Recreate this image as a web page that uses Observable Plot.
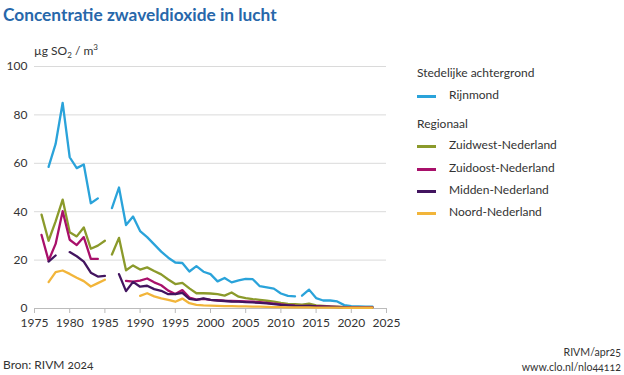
<!DOCTYPE html>
<html><head><meta charset="utf-8">
<script src="https://cdn.jsdelivr.net/npm/d3@7"></script>
<script src="https://cdn.jsdelivr.net/npm/@observablehq/plot@0.6"></script>
<style>
body{margin:0;background:#fff;font-family:Lato,"Noto Sans",sans-serif;color:#333;}
#wrap{position:relative;width:624px;height:375px;overflow:hidden;}
#wrap svg{position:absolute;left:0;top:0;}
.ov{position:absolute;white-space:nowrap;line-height:1;}
#title{left:3px;top:6px;font-size:17.3px;font-weight:bold;color:#2767aa;}
#unit{left:34px;top:43px;font-size:12px;}
#unit sub{font-size:8px;vertical-align:-3px;}
#unit sup{font-size:8px;vertical-align:5px;}
.lg{font-size:12px;}
.sw{position:absolute;width:19px;height:2.5px;}
.num{font-variant-numeric:oldstyle-nums;}
#src{left:3px;top:359px;font-size:12px;}
#r1{right:3px;top:347px;font-size:10.6px;text-align:right;}
#r2{right:3px;top:362px;font-size:10.6px;text-align:right;}
g[aria-label="x-axis tick"] path{stroke:#bbb;}
</style></head>
<body><div id="wrap"></div>
<script>
const years = d3.range(1976, 2024);
const seriesNames = ["Rijnmond","Zuidwest-Nederland","Zuidoost-Nederland","Midden-Nederland","Noord-Nederland"];
const colors = ["#2aa3da","#8b9a2b","#a8106a","#42145f","#f2b53a"];
const breakYears = [1986];
const rijnmondBreakYears = [1986, 2013];
const rijnmond = [null,58.5,68,85,62.5,58,59.5,43.5,45.5,null,
 41.5,50,34.5,38,32,29.5,26.5,23.5,21,19,18.8,15.3,17.5,15.2,14.2,11.2,12.6,10.8,11.6,12.2,12.1,9.2,8.7,8.2,6.2,5.2,5.0,
 5.3,7.8,4.3,3.3,3.3,2.9,1.4,1.0,0.9,0.8,0.8];
const zuidwest = [38.8,28,36,45,31.5,29.8,33.5,24.7,26,28,
 22.3,29.2,15.8,17.8,16.1,17.0,15.5,14.1,12.0,10.1,10.6,8.3,6.3,6.3,6.2,5.9,5.3,6.6,4.9,4.3,3.9,3.6,3.2,2.8,2.3,1.9,1.8,
 1.6,2.0,1.3,1.1,0.9,0.8,0.6,0.5,0.5,0.5,0.5];
const zuidoost = [30.4,19.8,26.7,40.2,28.4,26.2,29.5,20.5,20.5,null,
 null,null,11.4,11.1,11.5,12.4,10.8,9.6,7.4,6.0,7.6,4.5,3.7,4.0,3.6,3.4,3.2,3.1,3.0,2.9,2.8,2.6,2.3,2.0,1.7,1.4,1.2,
 1.1,1.1,1.0,0.9,0.8,0.7,0.6,0.5,0.5,0.5,0.5];
const midden = [null,19.4,21.9,null,23.3,21.6,19.4,14.8,13.2,13.5,
 null,14.2,7.2,11.0,9.0,9.4,8.0,7.3,5.9,5.9,6.5,4.0,3.6,4.2,3.6,3.3,3.1,2.9,2.8,2.6,2.5,2.3,2.1,1.8,1.5,1.3,1.1,
 1.0,1.1,0.9,0.8,0.7,0.6,0.5,0.4,0.4,0.4,0.4];
const noord = [null,10.9,15,15.7,14.3,12.7,11.3,9.1,10.5,11.9,
 null,null,null,null,5.2,6.3,5.0,4.2,3.6,2.8,4.1,2.2,1.5,1.3,1.2,1.1,1.0,1.0,0.9,0.9,0.8,0.8,0.7,0.6,0.6,0.5,0.5,
 0.5,0.5,0.4,0.4,0.4,0.4,0.3,0.3,0.3,0.3,0.3];
const xTicks = d3.range(1975, 2026, 5);
const yTicks = [0,20,40,60,80,100];
const unitLabel = "µg SO<sub>2</sub> / m<sup>3</sup>";

const seriesValues = [rijnmond, zuidwest, zuidoost, midden, noord];
const table = [];
seriesValues.forEach((vals, si) => {
  const br = si === 0 ? rijnmondBreakYears : breakYears;
  years.forEach((yr, i) => {
    const seg = br.filter(b => yr >= b).length;
    table.push({series: seriesNames[si], year: yr, value: vals[i], seg: seriesNames[si] + "-" + seg});
  });
});

const chart = Plot.plot({
  width: 624, height: 375,
  marginTop: 66, marginBottom: 67, marginLeft: 34, marginRight: 238,
  style: {fontFamily: "Lato, 'Noto Sans', sans-serif", fontSize: "12px", color: "#333", background: "transparent", fontVariantNumeric: "oldstyle-nums"},
  x: {domain: [1975, 2025], ticks: xTicks, tickFormat: d => String(d), label: null, tickSize: 5, tickPadding: 5},
  y: {domain: [0, 100], ticks: yTicks, label: null, tickSize: 0, tickPadding: 7},
  color: {domain: seriesNames, range: colors},
  marks: [
    Plot.ruleY(yTicks.filter(d => d > 0), {stroke: "#dadada", strokeWidth: 1}),
    Plot.ruleY([0], {stroke: "#bbb", strokeWidth: 1}),
    Plot.lineY(table, {x: "year", y: "value", z: "seg", stroke: "series", strokeWidth: 2.3, curve: "linear"})
  ]
});
const wrap = document.getElementById("wrap");
wrap.appendChild(chart);

function ov(id, html, cls) {
  const d = document.createElement("div");
  d.className = "ov " + (cls || "");
  if (id) d.id = id;
  d.innerHTML = html;
  wrap.appendChild(d);
  return d;
}
ov("title", "Concentratie zwaveldioxide in lucht");
ov("unit", unitLabel);
ov("src", "Bron: RIVM 2024", "num");
ov("r1", "RIVM/apr25", "num");
ov("r2", "www.clo.nl/nlo44112", "num");

const legendRows = [
  {text: "Stedelijke achtergrond", y: 74},
  {text: seriesNames[0], y: 96, c: colors[0]},
  {text: "Regionaal", y: 125},
  {text: seriesNames[1], y: 146, c: colors[1]},
  {text: seriesNames[2], y: 169, c: colors[2]},
  {text: seriesNames[3], y: 191, c: colors[3]},
  {text: seriesNames[4], y: 213, c: colors[4]}
];
legendRows.forEach(r => {
  const t = ov(null, r.text, "lg");
  t.style.left = (r.c ? 449 : 417) + "px";
  t.style.top = (r.y - 7) + "px";
  if (r.c) {
    const s = document.createElement("div");
    s.className = "sw";
    s.style.left = "417px";
    s.style.top = (r.y - 1) + "px";
    s.style.background = r.c;
    wrap.appendChild(s);
  }
});
</script></body></html>
